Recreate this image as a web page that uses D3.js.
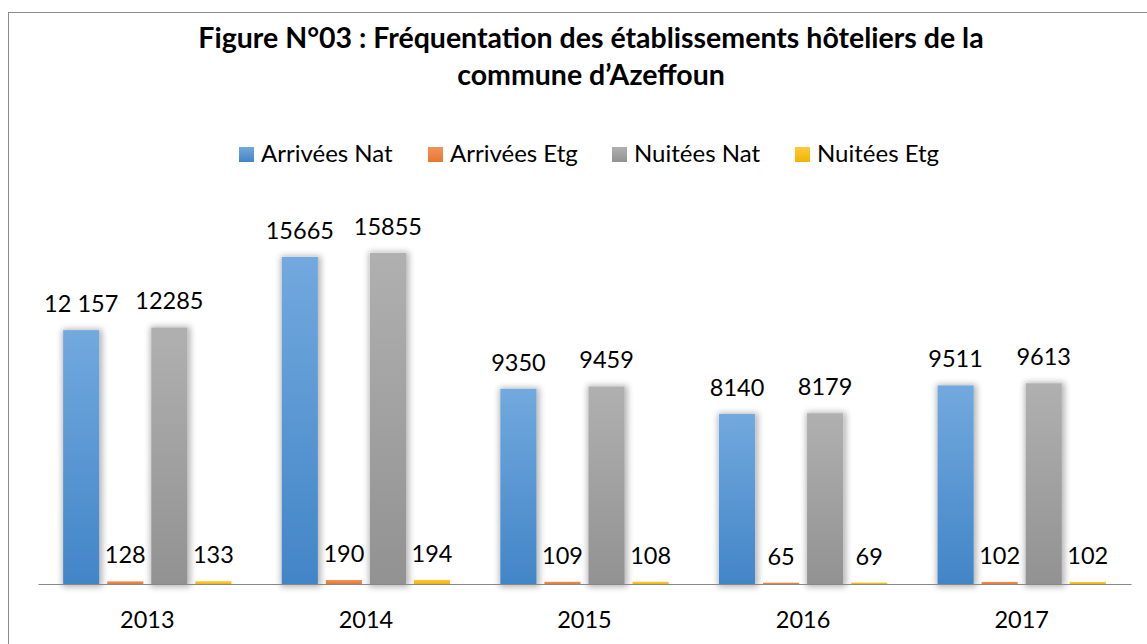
<!DOCTYPE html>
<html>
<head>
<meta charset="utf-8">
<script src="https://cdn.jsdelivr.net/npm/d3@7"></script>
<style>
  body { margin: 0; background: #fff; }
  text { font-family: Lato, "Open Sans", sans-serif; }
</style>
</head>
<body>
<script>
// data
var years = ["2013", "2014", "2015", "2016", "2017"];
var seriesNames = ["Arrivées Nat", "Arrivées Etg", "Nuitées Nat", "Nuitées Etg"];
var arriveesNat = [12157, 15665, 9350, 8140, 9511];
var arriveesEtg = [128, 190, 109, 65, 102];
var nuiteesNat = [12285, 15855, 9459, 8179, 9613];
var nuiteesEtg = [133, 194, 108, 69, 102];
var labelText = [
  ["12 157", "15665", "9350", "8140", "9511"],
  ["128", "190", "109", "65", "102"],
  ["12285", "15855", "9459", "8179", "9613"],
  ["133", "194", "108", "69", "102"]
];
var titleLines = ["Figure N°03 : Fréquentation des établissements hôteliers de la", "commune d’Azeffoun"];

var allSeries = [arriveesNat, arriveesEtg, nuiteesNat, nuiteesEtg];
// gradient colors top -> bottom
var colors = [["#72a9de", "#4285c7"], ["#f4915a", "#e8772f"], ["#b0b0b0", "#929292"], ["#ffc93c", "#f0b400"]];

var width = 1147, height = 644;
var svg = d3.select("body").append("svg")
    .attr("width", width)
    .attr("height", height);

var defs = svg.append("defs");
colors.forEach((c, i) => {
    var g = defs.append("linearGradient")
        .attr("id", "grad" + i)
        .attr("x1", 0).attr("y1", 0).attr("x2", 0).attr("y2", 1);
    g.append("stop").attr("offset", "0%").attr("stop-color", c[0]);
    g.append("stop").attr("offset", "100%").attr("stop-color", c[1]);
});
// soft shadow round the bars
var f = defs.append("filter").attr("id", "shadow")
    .attr("x", "-40%").attr("y", "-10%").attr("width", "180%").attr("height", "120%");
f.append("feMorphology").attr("in", "SourceAlpha").attr("operator", "dilate").attr("radius", 2).attr("result", "big");
f.append("feGaussianBlur").attr("in", "big").attr("stdDeviation", 3).attr("result", "blur");
f.append("feOffset").attr("in", "blur").attr("dx", 1).attr("dy", 1).attr("result", "off");
f.append("feComponentTransfer").attr("in", "off").attr("result", "soft")
    .append("feFuncA").attr("type", "linear").attr("slope", 0.3);
var merge = f.append("feMerge");
merge.append("feMergeNode").attr("in", "soft");
merge.append("feMergeNode").attr("in", "SourceGraphic");

// chart frame
svg.append("rect")
    .attr("x", 8.5).attr("y", 12.5)
    .attr("width", 1150).attr("height", 650)
    .attr("fill", "none")
    .attr("stroke", "#8c8c8c")
    .attr("stroke-width", 1);

// title
svg.append("g").selectAll("text")
    .data(titleLines)
    .enter().append("text")
    .attr("x", 591)
    .attr("y", (d, i) => 48 + i * 37)
    .attr("text-anchor", "middle")
    .attr("font-size", "28.5px")
    .attr("font-weight", "bold")
    .attr("fill", "#000")
    .text(d => d);

// legend
var legendX = [239, 428, 612, 795];
var legend = svg.append("g").selectAll("g")
    .data(seriesNames)
    .enter().append("g")
    .attr("transform", (d, i) => `translate(${legendX[i]},147)`);
legend.append("rect")
    .attr("width", 15).attr("height", 15)
    .attr("fill", (d, i) => `url(#grad${i})`);
legend.append("text")
    .attr("x", 22).attr("y", 15)
    .attr("font-size", "24px")
    .attr("fill", "#000")
    .text(d => d);

// scales
var x = d3.scaleBand()
    .domain(years)
    .range([38, 1131])
    .paddingInner(0.23)
    .paddingOuter(0.115);
var x1 = d3.scaleBand()
    .domain(d3.range(4))
    .range([0, x.bandwidth()])
    .paddingInner(0.18);
var y = d3.scaleLinear()
    .domain([0, 16000])
    .range([584, 584 - 16000 * 0.02088]);

var groups = svg.append("g").selectAll("g")
    .data(years)
    .enter().append("g")
    .attr("transform", d => `translate(${x(d)},0)`);

groups.selectAll("rect")
    .data((d, yi) => allSeries.map((s, si) => ({ si: si, yi: yi, v: s[yi] })))
    .enter().append("rect")
    .attr("x", d => x1(d.si))
    .attr("y", d => y(d.v))
    .attr("width", x1.bandwidth())
    .attr("height", d => y(0) - y(d.v))
    .attr("fill", d => `url(#grad${d.si})`)
    .attr("filter", d => d.si % 2 == 0 ? "url(#shadow)" : null);

groups.selectAll("text")
    .data((d, yi) => allSeries.map((s, si) => ({ si: si, yi: yi, v: s[yi] })))
    .enter().append("text")
    .attr("x", d => x1(d.si) + x1.bandwidth() / 2)
    .attr("y", d => y(d.v) - 18)
    .attr("text-anchor", "middle")
    .attr("font-size", "23.5px")
    .attr("fill", "#000")
    .text(d => labelText[d.si][d.yi]);

// category axis
var axis = svg.append("g")
    .attr("transform", "translate(0,584)")
    .call(d3.axisBottom(x).tickSize(0).tickPadding(27));
axis.select(".domain").attr("stroke", "#888").attr("stroke-width", 1.2);
axis.selectAll("text")
    .attr("font-size", "23.5px")
    .attr("fill", "#000")
    .style("font-family", "Lato, 'Open Sans', sans-serif");
</script>
</body>
</html>
